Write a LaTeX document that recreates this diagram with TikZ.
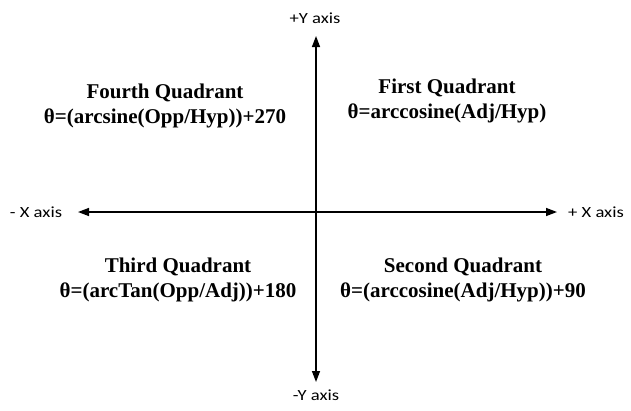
\documentclass[tikz,border=0pt]{standalone}
\usepackage{fontspec}
\usepackage{graphicx}
\setmainfont{Liberation Serif}
\newfontfamily\axisfont{Carlito}
\usetikzlibrary{arrows.meta}
\tikzset{
  axisline/.style={line width=1.4pt, -{Triangle[length=11pt,width=8pt]}},
  quad/.style={align=center, font=\fontsize{21}{25.5}\selectfont\bfseries, inner sep=0pt},
  axlabel/.style={font=\fontsize{15.5}{18}\selectfont\axisfont, inner sep=0pt}
}
\begin{document}
\begin{tikzpicture}[x=1pt,y=-1pt]
\useasboundingbox (0,0) rectangle (631,410);
\coordinate (o) at (316,212);
\coordinate (ytop) at (316,36);
\coordinate (ybot) at (316,382);
\coordinate (xleft) at (78,212);
\coordinate (xright) at (557,212);
\draw[axisline] (o) -- (ytop);
\draw[axisline] (o) -- (ybot);
\draw[axisline] (o) -- (xleft);
\draw[axisline] (o) -- (xright);
\node[axlabel] (py) at (315,18) {\scalebox{1.2}[1]{+Y axis}};
\node[axlabel] (my) at (316,395) {\scalebox{1.2}[1]{-Y axis}};
\node[axlabel] (mx) at (36,212) {\scalebox{1.2}[1]{- X axis}};
\node[axlabel] (px) at (596,212) {\scalebox{1.2}[1]{+ X axis}};
\node[quad] (q4) at (165,106) {Fourth Quadrant\\θ=(arcsine(Opp/Hyp))+270};
\node[quad] (q1) at (447,101) {First Quadrant\\θ=arccosine(Adj/Hyp)};
\node[quad] (q3) at (178,280) {Third Quadrant\\θ=(arcTan(Opp/Adj))+180};
\node[quad] (q2) at (463,280) {Second Quadrant\\θ=(arccosine(Adj/Hyp))+90};
\end{tikzpicture}
\end{document}
